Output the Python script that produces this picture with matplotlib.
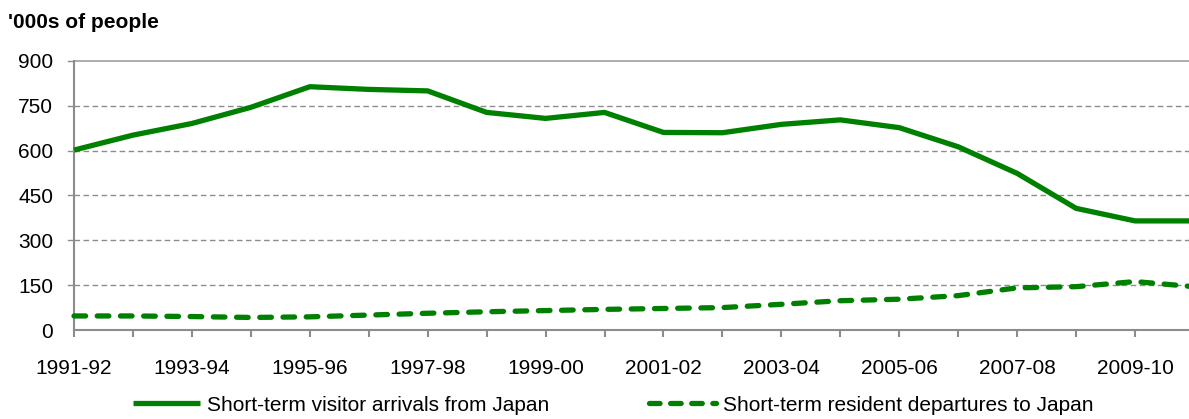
import matplotlib as mpl
mpl.use('Agg')
from matplotlib import pyplot as plt
from matplotlib.lines import Line2D

# financial years shown on the x axis
years = ["1991-92", "1992-93", "1993-94", "1994-95", "1995-96", "1996-97",
         "1997-98", "1998-99", "1999-00", "2000-01", "2001-02", "2002-03",
         "2003-04", "2004-05", "2005-06", "2006-07", "2007-08", "2008-09",
         "2009-10", "2010-11"]

# '000s of people
arrivals = [602, 652, 691, 745, 814, 805, 800, 728, 708, 728,
            661, 660, 688, 703, 677, 613, 524, 407, 365, 365]
departures = [47, 47, 45, 42, 44, 50, 56, 61, 65, 69,
              72, 75, 86, 98, 103, 115, 141, 145, 162, 145]

legends = ["Short-term visitor arrivals from Japan",
           "Short-term resident departures to Japan"]

green = '#008000'
grey = '#8c8c8c'
fs = 15

plt.rcParams['font.family'] = ['Liberation Sans', 'DejaVu Sans']

fig = plt.figure(figsize=(11.89, 4.19), dpi=100)
ax = fig.add_axes([74/1189, 1-330/419, (1194-74)/1189, (330-61)/419])

x = list(range(len(years)))
ax.plot(x, arrivals, color=green, linewidth=3.8, solid_capstyle='butt',
        solid_joinstyle='round', clip_on=False, zorder=3)
ax.plot(x, departures, color=green, linewidth=3.8, dashes=(2.2, 2.2),
        dash_capstyle='round', clip_on=False, zorder=3)

ax.set_xlim(0, len(years)-1)
ax.set_ylim(0, 900)
ax.set_yticks(range(0, 901, 150))
ax.set_xticks(x)
ax.set_xticklabels([y if i % 2 == 0 else '' for i, y in enumerate(years)])

for v in range(150, 901, 150):
  if v == 900:
    ax.axhline(v, color='#a6a6a6', linewidth=1.3, zorder=1, clip_on=False)
  else:
    ax.axhline(v, color=grey, linewidth=1.0, linestyle=(0, (4, 2.5)), zorder=1)
  # extend grid slightly to the left like the tick marks
  ax.plot([-0.1, 0], [v, v], color=grey, linewidth=1.0, clip_on=False, zorder=1)

for s in ['top', 'right']:
  ax.spines[s].set_visible(False)
for s in ['left', 'bottom']:
  ax.spines[s].set_color(grey)
  ax.spines[s].set_linewidth(1.5)

ax.tick_params(axis='y', length=0, pad=15, labelsize=fs)
ax.tick_params(axis='x', length=5, width=1.5, color=grey, pad=16, labelsize=fs)

fig.text(8/1189, 1-28/419, "'000s of people", fontsize=fs, fontweight='bold',
         ha='left', va='baseline')

handles = [Line2D([], [], color=green, linewidth=3.8, solid_capstyle='butt'),
           Line2D([], [], color=green, linewidth=3.8, dashes=(2.0, 2.0),
                  dash_capstyle='round')]
fig.legend(handles, legends, loc='center left', ncol=2,
           bbox_to_anchor=(133/1189, 1-405/419), frameon=False, fontsize=fs,
           handlelength=3.2, handletextpad=0.35, columnspacing=4.8,
           borderpad=0, borderaxespad=0)

fig.savefig("out.png", dpi=100)
